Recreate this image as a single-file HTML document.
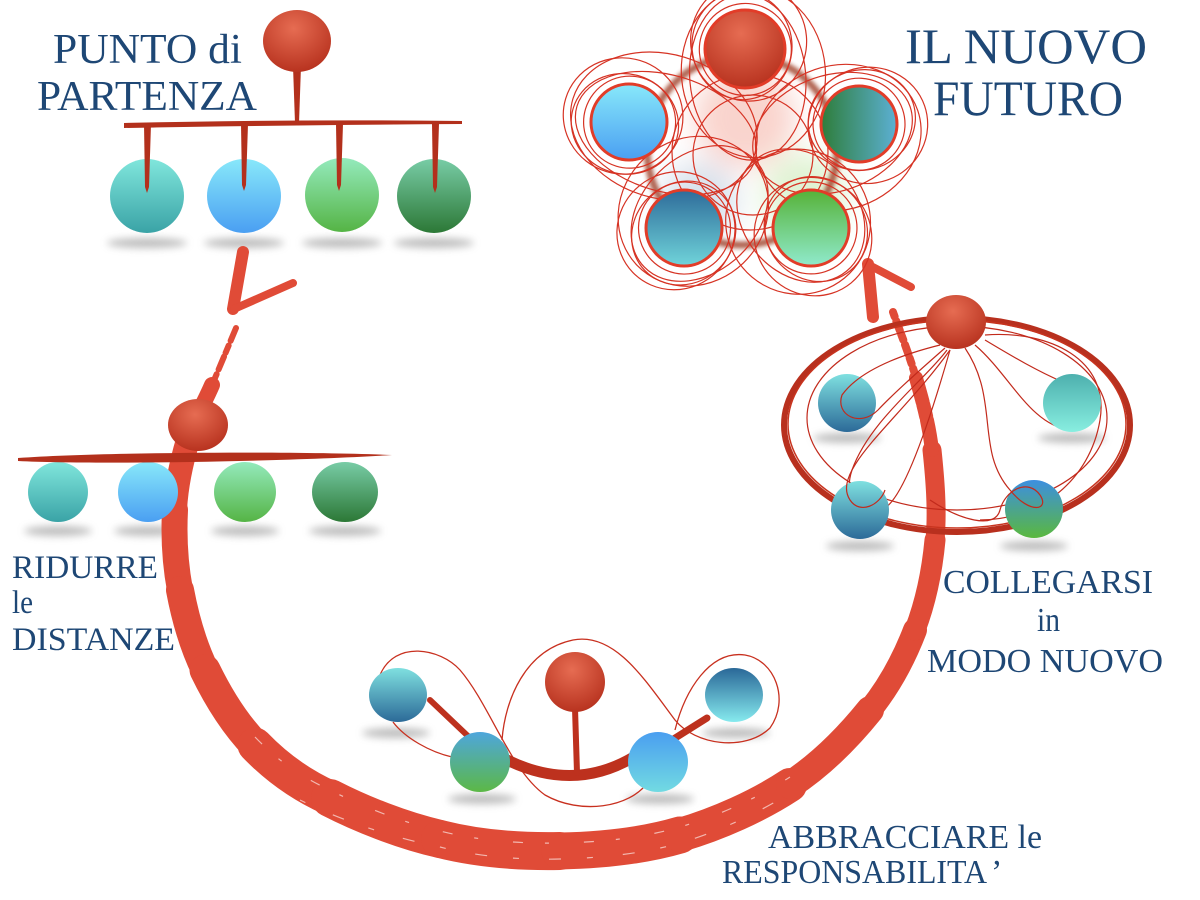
<!DOCTYPE html>
<html><head><meta charset="utf-8"><style>
html,body{margin:0;padding:0;background:#fff;}
svg{display:block;}
text{font-family:"Liberation Serif",serif;fill:#1e4775;}
</style></head><body>
<svg width="1200" height="900" viewBox="0 0 1200 900" xmlns="http://www.w3.org/2000/svg">
<defs>
<filter id="b4" x="-50%" y="-50%" width="200%" height="200%"><feGaussianBlur stdDeviation="4"/></filter>
<filter id="b10" x="-50%" y="-50%" width="200%" height="200%"><feGaussianBlur stdDeviation="14"/></filter>
<filter id="b2" x="-50%" y="-50%" width="200%" height="200%"><feGaussianBlur stdDeviation="2"/></filter>
<linearGradient id="gTeal" x1="0" y1="0" x2="0" y2="1"><stop offset="0" stop-color="#80e6dc"/><stop offset="1" stop-color="#3aa3a6"/></linearGradient>
<linearGradient id="gLBlue" x1="0" y1="0" x2="0" y2="1"><stop offset="0" stop-color="#88e8fa"/><stop offset="1" stop-color="#4a9ff2"/></linearGradient>
<linearGradient id="gGreen" x1="0" y1="0" x2="0" y2="1"><stop offset="0" stop-color="#94eabc"/><stop offset="1" stop-color="#55b445"/></linearGradient>
<linearGradient id="gDGreen" x1="0" y1="0" x2="0" y2="1"><stop offset="0" stop-color="#78cca6"/><stop offset="1" stop-color="#2c7836"/></linearGradient>
<radialGradient id="gRed" cx="0.45" cy="0.3" r="0.75"><stop offset="0" stop-color="#e66c52"/><stop offset="1" stop-color="#b52f1c"/></radialGradient>
<linearGradient id="gTD" x1="0" y1="0" x2="0" y2="1"><stop offset="0" stop-color="#7fe0e0"/><stop offset="1" stop-color="#2c6a98"/></linearGradient>
<linearGradient id="gBG" x1="0" y1="0" x2="0" y2="1"><stop offset="0" stop-color="#4ea6dc"/><stop offset="1" stop-color="#5cb846"/></linearGradient>
<linearGradient id="gBC" x1="0" y1="0" x2="0" y2="1"><stop offset="0" stop-color="#4a9ef0"/><stop offset="1" stop-color="#72dae2"/></linearGradient>
<linearGradient id="gDU" x1="0" y1="0" x2="0" y2="1"><stop offset="0" stop-color="#2a6898"/><stop offset="1" stop-color="#86eaee"/></linearGradient>
<linearGradient id="gPR" x1="0" y1="0" x2="1" y2="0"><stop offset="0" stop-color="#2e7d3a"/><stop offset="1" stop-color="#5cb0d4"/></linearGradient>
<linearGradient id="gPBL" x1="0" y1="0" x2="0" y2="1"><stop offset="0" stop-color="#2e6c9a"/><stop offset="1" stop-color="#70d4da"/></linearGradient>
<linearGradient id="gPBR" x1="0" y1="0" x2="0" y2="1"><stop offset="0" stop-color="#56b238"/><stop offset="1" stop-color="#90eacc"/></linearGradient>
<linearGradient id="gRT" x1="0" y1="0" x2="0" y2="1"><stop offset="0" stop-color="#4db0ae"/><stop offset="1" stop-color="#88eee0"/></linearGradient>
<linearGradient id="gCBR" x1="0" y1="0" x2="0" y2="1"><stop offset="0" stop-color="#3d8fe0"/><stop offset="1" stop-color="#5ab83e"/></linearGradient>
</defs>

<!-- shadows -->
<g fill="#888" opacity="0.55" filter="url(#b4)">
<ellipse cx="147" cy="243" rx="40" ry="5"/><ellipse cx="244" cy="243" rx="40" ry="5"/><ellipse cx="342" cy="243" rx="40" ry="5"/><ellipse cx="434" cy="243" rx="40" ry="5"/>
<ellipse cx="58" cy="531" rx="34" ry="5"/><ellipse cx="148" cy="531" rx="34" ry="5"/><ellipse cx="245" cy="531" rx="34" ry="5"/><ellipse cx="345" cy="531" rx="36" ry="5"/>
<ellipse cx="396" cy="733" rx="34" ry="5"/><ellipse cx="482" cy="799" rx="34" ry="5"/><ellipse cx="660" cy="799" rx="34" ry="5"/><ellipse cx="736" cy="733" rx="34" ry="5"/>
<ellipse cx="847" cy="438" rx="34" ry="5"/><ellipse cx="1072" cy="438" rx="34" ry="5"/><ellipse cx="860" cy="546" rx="34" ry="5"/><ellipse cx="1034" cy="546" rx="34" ry="5"/>
</g>

<!-- big brush arc -->
<g fill="none" stroke="#e04b37" stroke-linecap="round">
<path d="M236,328 C232,337.5 220,366.3 212,385" stroke-width="6" stroke-dasharray="14 5 8 4"/>
<path d="M212,385 C204,403.7 194.2,419.2 188,440" stroke-width="16"/>
<path d="M188,440 C181.8,460.8 176.3,485 175,510" stroke-width="24"/>
<path d="M175,510 C173.7,535 175,563.3 180,590" stroke-width="26"/>
<path d="M180,590 C185,616.7 192.5,644.2 205,670" stroke-width="28"/>
<path d="M205,670 C217.5,695.8 234.2,723.3 255,745" stroke-width="31"/>
<path d="M255,745 C275.8,766.7 299.2,784.2 330,798" stroke-width="35"/>
<path d="M330,798 C360.8,813.8 401.7,830.3 440,839" stroke-width="38"/>
<path d="M440,839 C478.3,848.7 520,851.8 560,851" stroke-width="38"/>
<path d="M560,851 C600,850.2 641.7,846.2 680,835" stroke-width="37"/>
<path d="M680,835 C718.3,823.8 758.3,805.8 790,785" stroke-width="34"/>
<path d="M790,785 C821.7,764.2 849.2,735.8 870,710" stroke-width="28"/>
<path d="M870,710 C890.8,684.2 904.2,658.3 915,630" stroke-width="24"/>
<path d="M915,630 C925.8,601.7 932.2,570 935,540" stroke-width="21"/>
<path d="M935,540 C937.8,510 934.8,476.7 932,450" stroke-width="19"/>
<path d="M932,450 C928.8,423 922.5,401 916,378" stroke-width="14" stroke-dasharray="30 4 12 3"/>
<path d="M916,378 C909.5,355 896.8,323 893,312" stroke-width="8" stroke-dasharray="10 5 6 4"/>
</g>
<g fill="none" stroke="#fff" stroke-width="1.2" opacity="0.6">
<path d="M255,737 C275.8,758.7 299.2,776.2 330,790 C360.8,805.8 401.7,822.3 440,831 C478.3,840.7 520,843.8 560,843 C600,842.2 641.7,838.2 680,827 C718.3,815.8 758.3,797.8 790,777" stroke-dasharray="10 22 4 35"/>
<path d="M300,800 C330,815 380,835 440,847 C478.3,856.7 520,860 560,859 C600,858 641.7,854 680,843 C718,832 760,812 790,793" stroke-dasharray="6 30 12 26"/>
</g>

<!-- check arrows -->
<g stroke="#e04b37" stroke-linecap="round" fill="none">
<path d="M243,252 L233,309" stroke-width="12"/>
<path d="M234,309 L293,283" stroke-width="8"/>
<path d="M873,317 L868,264" stroke-width="12"/>
<path d="M869,265 L911,287" stroke-width="8"/>
</g>

<!-- ROW 1 -->
<circle cx="147" cy="196" r="37" fill="url(#gTeal)"/>
<circle cx="244" cy="196" r="37" fill="url(#gLBlue)"/>
<circle cx="342" cy="195" r="37" fill="url(#gGreen)"/>
<circle cx="434" cy="196" r="37" fill="url(#gDGreen)"/>
<g fill="#b3301c">
<path d="M124,123 Q300,119 462,121 L462,124 Q300,125 124,128 Z"/>
<path d="M293,66 L301,66 L299,123 L295,123 Z"/>
<path d="M144,124 L151,124 L149,187 L147,193 L145,187 Z"/>
<path d="M241,124 L248,124 L246,185 L244,191 L242,185 Z"/>
<path d="M336,124 L343,124 L341,185 L339,191 L337,185 Z"/>
<path d="M432,124 L439,124 L437,187 L435,193 L433,187 Z"/>
</g>
<ellipse cx="297" cy="41" rx="34" ry="31" fill="url(#gRed)"/>

<!-- ROW 2 -->
<circle cx="58" cy="492" r="30" fill="url(#gTeal)"/>
<circle cx="148" cy="492" r="30" fill="url(#gLBlue)"/>
<ellipse cx="245" cy="492" rx="31" ry="30" fill="url(#gGreen)"/>
<ellipse cx="345" cy="492" rx="33" ry="30" fill="url(#gDGreen)"/>
<path d="M18,458 C100,452 300,451 392,455 C300,461 100,465 18,461 Z" fill="#b3301c"/>
<ellipse cx="198" cy="425" rx="30" ry="26" fill="url(#gRed)"/>

<!-- ROW 3 -->
<g fill="none" stroke="#c8301f" stroke-width="1.3">
<path d="M380,675 C395,640 440,648 460,670 C490,705 510,770 545,795 C580,815 630,808 648,782"/>
<path d="M393,722 C405,738 430,752 452,757"/>
<path d="M502,740 C505,700 525,650 573,640 C615,632 645,680 675,720 C695,745 745,752 770,728 C790,700 775,660 745,655 C710,650 685,690 675,730"/>
</g>
<g fill="none" stroke="#bd311e" stroke-linecap="round">
<path d="M430,700 L470,738" stroke-width="6"/>
<path d="M507,760 Q573,792 632,758" stroke-width="11"/>
<path d="M575,708 L577,773" stroke-width="6"/>
<path d="M672,740 L707,718" stroke-width="7"/>
</g>
<ellipse cx="398" cy="695" rx="29" ry="27" fill="url(#gTD)"/>
<circle cx="480" cy="762" r="30" fill="url(#gBG)"/>
<circle cx="575" cy="682" r="30" fill="url(#gRed)"/>
<circle cx="658" cy="762" r="30" fill="url(#gBC)"/>
<ellipse cx="734" cy="695" rx="29" ry="27" fill="url(#gDU)"/>

<!-- RIGHT CLUSTER -->
<ellipse cx="957" cy="425" rx="173" ry="107" fill="none" stroke="#b8301e" stroke-width="6"/>
<ellipse cx="957" cy="424" rx="169" ry="104" fill="none" stroke="#c8341f" stroke-width="1.5"/>
<g fill="none" stroke="#c22a1c" stroke-width="1.2">
<ellipse cx="957" cy="418" rx="150" ry="92"/>
<path d="M947,350 C925,380 870,420 852,470 C842,500 860,520 885,508 C905,495 930,420 950,350"/>
<path d="M975,345 C1010,375 1030,425 1070,430 C1095,432 1095,395 1070,385 C1040,373 1010,355 985,340"/>
<path d="M985,335 C1050,330 1110,360 1100,420 C1090,480 1040,520 980,520"/>
</g>
<circle cx="847" cy="403" r="29" fill="url(#gTD)"/>
<circle cx="1072" cy="403" r="29" fill="url(#gRT)"/>
<circle cx="860" cy="510" r="29" fill="url(#gTD)"/>
<circle cx="1034" cy="509" r="29" fill="url(#gCBR)"/>
<g fill="none" stroke="#c22a1c" stroke-width="1.2">
<path d="M940,345 C900,355 860,370 842,395 C835,415 860,428 878,410 C895,392 920,370 945,348"/>
<path d="M965,348 C1000,400 975,450 1010,490 C1030,515 1050,510 1040,495 C1028,478 1005,490 1000,510 C995,530 960,520 930,500"/>
<path d="M950,350 C900,420 830,470 850,500 C860,515 880,505 885,490"/>
</g>
<ellipse cx="956" cy="322" rx="30" ry="27" fill="url(#gRed)"/>

<!-- PENTAGON -->
<g filter="url(#b10)">
<circle cx="745" cy="118" r="50" fill="#f2a090" opacity="0.45"/>
<circle cx="805" cy="195" r="42" fill="#c0e8a8" opacity="0.5"/>
<circle cx="700" cy="200" r="38" fill="#a8bcd2" opacity="0.45"/>
</g>
<circle cx="742" cy="150" r="95" fill="none" stroke="#9c3a22" stroke-width="7" opacity="0.8" filter="url(#b2)"/>
<g fill="none" stroke="#d63324" stroke-width="1.2">
<g transform="translate(755,160) rotate(-95)">
<ellipse cx="83" cy="0" rx="83" ry="58"/><ellipse cx="87" cy="6" rx="85" ry="72"/><ellipse cx="115" cy="-3" rx="54" ry="50"/><ellipse cx="119" cy="4" rx="60" ry="58"/><circle cx="111" cy="0" r="46"/></g>
<g transform="translate(755,160) rotate(196.8)">
<ellipse cx="93" cy="0" rx="93" ry="58"/><ellipse cx="97" cy="6" rx="95" ry="72"/><ellipse cx="135" cy="-3" rx="54" ry="50"/><ellipse cx="139" cy="4" rx="60" ry="58"/><circle cx="131" cy="0" r="46"/></g>
<g transform="translate(755,160) rotate(-19)">
<ellipse cx="82" cy="0" rx="82" ry="58"/><ellipse cx="86" cy="6" rx="84" ry="72"/><ellipse cx="114" cy="-3" rx="54" ry="50"/><ellipse cx="118" cy="4" rx="60" ry="58"/><circle cx="110" cy="0" r="46"/></g>
<g transform="translate(755,160) rotate(136)">
<ellipse cx="77" cy="0" rx="77" ry="58"/><ellipse cx="80" cy="6" rx="78" ry="72"/><ellipse cx="102" cy="-3" rx="54" ry="50"/><ellipse cx="106" cy="4" rx="60" ry="58"/><circle cx="98" cy="0" r="46"/></g>
<g transform="translate(755,160) rotate(50.5)">
<ellipse cx="72" cy="0" rx="72" ry="58"/><ellipse cx="75" cy="6" rx="73" ry="72"/><ellipse cx="92" cy="-3" rx="54" ry="50"/><ellipse cx="96" cy="4" rx="60" ry="58"/><circle cx="88" cy="0" r="46"/></g>
<circle cx="753" cy="155" r="60"/>
<circle cx="750" cy="152" r="78"/>
</g>
<g stroke="#e23c28" stroke-width="3">
<ellipse cx="745" cy="49" rx="40" ry="39" fill="url(#gRed)"/>
<circle cx="629" cy="122" r="38" fill="url(#gLBlue)"/>
<circle cx="859" cy="124" r="38" fill="url(#gPR)"/>
<circle cx="684" cy="228" r="38" fill="url(#gPBL)"/>
<circle cx="811" cy="228" r="38" fill="url(#gPBR)"/>
</g>

<!-- TEXT -->
<text x="53" y="63" font-size="42" textLength="189" lengthAdjust="spacingAndGlyphs">PUNTO di</text>
<text x="37" y="110" font-size="42" textLength="220" lengthAdjust="spacingAndGlyphs">PARTENZA</text>
<text x="905" y="63" font-size="50" textLength="242" lengthAdjust="spacingAndGlyphs">IL NUOVO</text>
<text x="933" y="115" font-size="50" textLength="190" lengthAdjust="spacingAndGlyphs">FUTURO</text>
<text x="12" y="578" font-size="33" textLength="146" lengthAdjust="spacingAndGlyphs">RIDURRE</text>
<text x="12" y="613" font-size="33" textLength="21" lengthAdjust="spacingAndGlyphs">le</text>
<text x="12" y="650" font-size="33" textLength="163" lengthAdjust="spacingAndGlyphs">DISTANZE</text>
<text x="943" y="593" font-size="34" textLength="210" lengthAdjust="spacingAndGlyphs">COLLEGARSI</text>
<text x="1037" y="631" font-size="34" textLength="23" lengthAdjust="spacingAndGlyphs">in</text>
<text x="927" y="672" font-size="34" textLength="236" lengthAdjust="spacingAndGlyphs">MODO NUOVO</text>
<text x="768" y="848" font-size="34" textLength="274" lengthAdjust="spacingAndGlyphs">ABBRACCIARE le</text>
<text x="722" y="883" font-size="34" textLength="265" lengthAdjust="spacingAndGlyphs">RESPONSABILITA</text>
<text x="991" y="883" font-size="34">’</text>
</svg>
</body></html>
